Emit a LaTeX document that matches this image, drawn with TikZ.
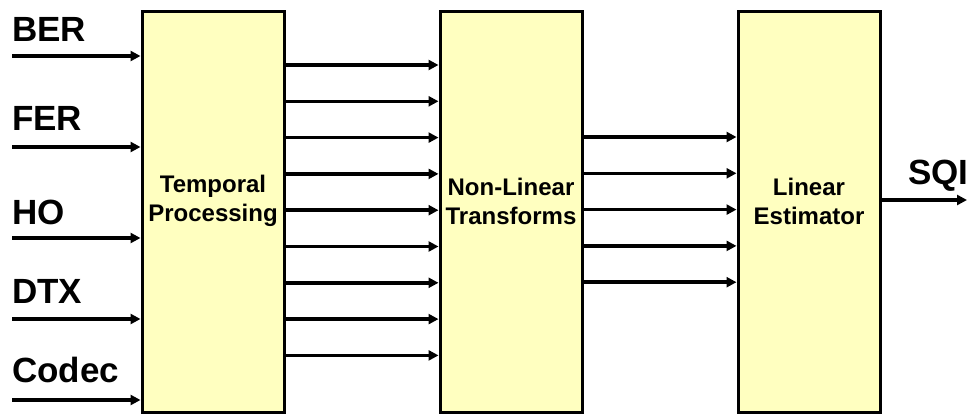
\documentclass[tikz,border=0pt]{standalone}
\usepackage{fontspec}
\setmainfont{Liberation Sans}
\usetikzlibrary{arrows.meta}
\definecolor{boxfill}{HTML}{FFFFC0}
\tikzset{
  stage/.style={draw=black, line width=3pt, fill=boxfill, minimum width=142pt,
    minimum height=400pt, inner sep=0pt},
  stagetext/.style={align=center, font=\fontsize{24}{29}\selectfont\bfseries},
  sigtext/.style={anchor=base west, inner sep=0pt, font=\fontsize{35}{38}\selectfont\bfseries},
  flow/.style={line width=3.5pt, -{Triangle[length=10pt,width=10pt]}}
}
\begin{document}
\begin{tikzpicture}[x=1pt,y=-1pt]
\useasboundingbox (0,0) rectangle (967,417);

% processing stages
\node[stage] (tp) at (213,212) {};
\node[stage] (nl) at (511,212) {};
\node[stage] (le) at (809,212) {};
\node[stagetext] (tpl) at (213,201) {Temporal\\Processing};
\node[stagetext] (nll) at (511,201) {Non-Linear\\Transforms};
\node[stagetext] (lel) at (809,201) {Linear\\Estimator};

% input signals
\node[sigtext] (ber) at (12,42) {BER};
\node[sigtext] (fer) at (12,131) {FER};
\node[sigtext] (ho) at (12,224) {HO};
\node[sigtext] (dtx) at (12,303) {DTX};
\node[sigtext] (codec) at (12,382) {Codec};
\foreach \y [count=\i] in {56,147,238,319,400} {
  \coordinate (in\i) at (12,\y);
  \draw[flow] (in\i) -- (in\i -| tp.west);
}

% temporal features into the transforms
\foreach \y in {65,101.3,137.6,173.9,210.2,246.5,282.8,319.1,355.4} {
  \draw[flow] (tp.east |- 0,\y) -- (nl.west |- 0,\y);
}

% transformed features into the estimator
\foreach \y in {137,173.3,209.6,245.9,282.2} {
  \draw[flow] (nl.east |- 0,\y) -- (le.west |- 0,\y);
}

% output
\node[sigtext] (sqi) at (908,185) {SQI};
\coordinate (out) at (967,200);
\draw[flow] (le.east |- out) -- (out);
\end{tikzpicture}
\end{document}
